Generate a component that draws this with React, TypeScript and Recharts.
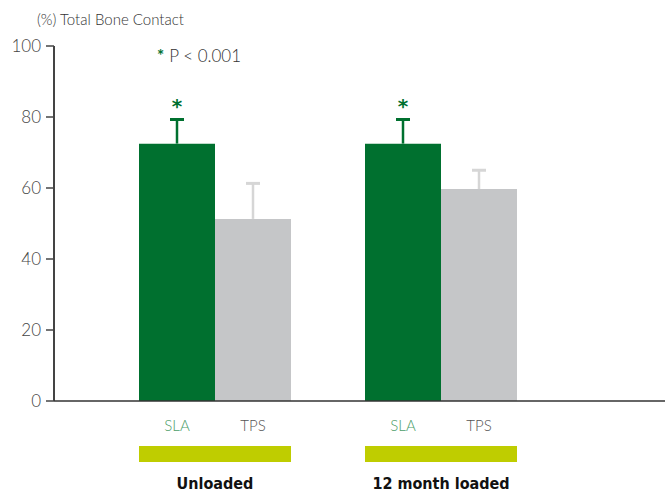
import React from "react";
import { BarChart, Bar, XAxis, YAxis, LabelList } from "recharts";

const groups = ["Unloaded", "12 month loaded"];
const slaValues = [72.5, 72.5];
const tpsValues = [51.3, 59.7];
const slaErrors = [6.8, 6.8];
const tpsErrors = [10.0, 5.3];
const yTicks = [0, 20, 40, 60, 80, 100];

const GREEN = "#00702f";
const GREY = "#c5c6c8";
const LIME = "#bfcd00";
const LIGHT_FONT = "Lato, 'Open Sans', 'Noto Sans', sans-serif";
const BOLD_FONT = "'Liberation Sans Narrow', 'DejaVu Sans Condensed', Arial, sans-serif";

const data = groups.map((group, i) => ({
  group,
  sla: slaValues[i],
  tps: tpsValues[i],
}));

// upward-only whisker; pixels per unit come from the bar's own height
const whisker = (values: number[], errors: number[], color: string, star: boolean) => (props: any) => {
  const { x, y, width, height, index } = props;
  const cx = Number(x) + Number(width) / 2;
  const perUnit = Number(height) / values[index];
  const top = Number(y) - errors[index] * perUnit;
  return (
    <g>
      <line x1={cx} x2={cx} y1={Number(y)} y2={top} stroke={color} strokeWidth={2.5} />
      <line x1={cx - 7} x2={cx + 7} y1={top} y2={top} stroke={color} strokeWidth={3} />
      {star && (
        <text
          x={cx}
          y={top - 6}
          textAnchor="middle"
          fill={GREEN}
          fontSize={20}
          fontWeight={700}
          fontFamily="'DejaVu Sans', sans-serif"
        >
          *
        </text>
      )}
    </g>
  );
};

// name under each bar plus the lime strip beneath the pair
const barFooter = (name: string, color: string) => (props: any) => {
  const { x, y, width, height } = props;
  const base = Number(y) + Number(height);
  return (
    <g>
      <text
        x={Number(x) + Number(width) / 2}
        y={base + 30}
        textAnchor="middle"
        fill={color}
        fontSize={15}
        fontFamily={LIGHT_FONT}
        fontWeight={300}
      >
        {name}
      </text>
      <rect x={x} y={base + 45} width={width} height={16} fill={LIME} />
    </g>
  );
};

const GroupTick = (props: any) => {
  const { x, y, payload } = props;
  return (
    <text
      x={x}
      y={Number(y) + 80}
      textAnchor="middle"
      fill="#111"
      fontSize={16}
      fontWeight={700}
      fontFamily={BOLD_FONT}
    >
      {payload.value}
    </text>
  );
};

export default function App() {
  return (
    <div style={{ position: "relative", width: 665, height: 493, background: "#fff" }}>
      <style>{"body { margin: 0; overflow: hidden; }"}</style>
      <div
        style={{
          position: "absolute", left: 37, top: 10, fontSize: 15, color: "#333",
          fontFamily: LIGHT_FONT, fontWeight: 300, whiteSpace: "nowrap",
        }}
      >
        (%) Total Bone Contact
      </div>
      <div
        style={{
          position: "absolute", left: 157, top: 45, fontSize: 17, color: "#333",
          fontFamily: LIGHT_FONT, fontWeight: 300, whiteSpace: "nowrap",
        }}
      >
        <span style={{ color: GREEN, fontWeight: 700, marginRight: 5 }}>*</span>P &lt; 0.001
      </div>
      <BarChart
        width={665}
        height={493}
        data={data}
        margin={{ top: 46, right: 0, bottom: 0, left: 0 }}
        barGap={0}
        barSize={76}
        style={{ overflow: "visible" }}
      >
        <YAxis
          domain={[0, 100]}
          ticks={yTicks}
          width={54}
          axisLine={{ stroke: "#444", strokeWidth: 2 }}
          tickLine={{ stroke: "#444", strokeWidth: 1.5 }}
          tickSize={8}
          tickMargin={5}
          tick={{ fill: "#444", fontSize: 17, fontFamily: LIGHT_FONT, fontWeight: 300 }}
        />
        <XAxis
          dataKey="group"
          height={92}
          padding={{ left: 48, right: 111 }}
          axisLine={{ stroke: "#333", strokeWidth: 1.5 }}
          tickLine={false}
          tick={<GroupTick />}
          interval={0}
        />
        <Bar dataKey="sla" fill={GREEN} isAnimationActive={false}>
          <LabelList dataKey="sla" content={whisker(slaValues, slaErrors, GREEN, true)} />
          <LabelList dataKey="sla" content={barFooter("SLA", "#4c9e6a")} />
        </Bar>
        <Bar dataKey="tps" fill={GREY} isAnimationActive={false}>
          <LabelList dataKey="tps" content={whisker(tpsValues, tpsErrors, "#d6d6d6", false)} />
          <LabelList dataKey="tps" content={barFooter("TPS", "#555")} />
        </Bar>
      </BarChart>
    </div>
  );
}
